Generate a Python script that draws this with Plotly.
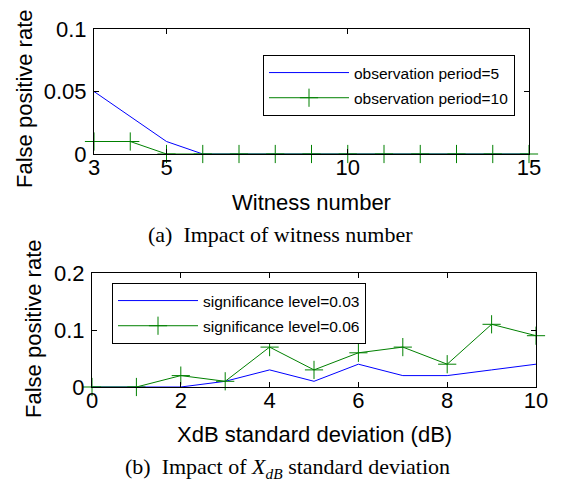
import plotly.graph_objects as go

# ---- data: (a) Impact of witness number ----
witness_number = [3, 4, 5, 6, 7, 8, 9, 10, 11, 12, 13, 14, 15]
fpr_obs5 = [0.05, 0.03, 0.01, 0, 0, 0, 0, 0, 0, 0, 0, 0, 0]
fpr_obs10 = [0.01, 0.01, 0, 0, 0, 0, 0, 0, 0, 0, 0, 0, 0]

# ---- data: (b) Impact of XdB standard deviation ----
xdb_std = [0, 1, 2, 3, 4, 5, 6, 7, 8, 9, 10]
fpr_sig003 = [0, 0, 0, 0.01, 0.03, 0.01, 0.04, 0.02, 0.02, 0.03, 0.04]
fpr_sig006 = [0, 0, 0.02, 0.01, 0.07, 0.03, 0.06, 0.07, 0.04, 0.11, 0.09]

x_ticks_a = [3, 5, 10, 15]
y_ticks_a = [0, 0.05, 0.1]
y_ticklabels_a = ["0", "0.05", "0.1"]
x_ticks_b = [0, 2, 4, 6, 8, 10]
y_ticks_b = [0, 0.1, 0.2]
y_ticklabels_b = ["0", "0.1", "0.2"]

BLUE = "rgb(0,0,255)"
GREEN = "rgb(0,128,0)"
SANS = "Liberation Sans, Arial, sans-serif"
SERIF = "Liberation Serif, Times New Roman, serif"
OFF = 8  # page body margin
W, H = 563 - OFF, 486 - OFF

fig = go.Figure()

fig.add_trace(go.Scatter(x=witness_number, y=fpr_obs5, mode="lines",
                         name="observation period=5", line=dict(color=BLUE, width=1),
                         xaxis="x", yaxis="y", legend="legend", legendgroup="a1",
                         cliponaxis=False))
fig.add_trace(go.Scatter(x=witness_number, y=fpr_obs10, mode="lines+markers",
                         name="observation period=10", line=dict(color=GREEN, width=1),
                         marker=dict(symbol="cross-thin", size=13, color=GREEN,
                                     line=dict(color=GREEN, width=1)),
                         xaxis="x", yaxis="y", legend="legend", legendgroup="a2",
                         cliponaxis=False))
fig.add_trace(go.Scatter(x=xdb_std, y=fpr_sig003, mode="lines",
                         name="significance level=0.03", line=dict(color=BLUE, width=1),
                         xaxis="x2", yaxis="y2", legend="legend2", legendgroup="b1",
                         cliponaxis=False))
fig.add_trace(go.Scatter(x=xdb_std, y=fpr_sig006, mode="lines+markers",
                         name="significance level=0.06", line=dict(color=GREEN, width=1),
                         marker=dict(symbol="cross-thin", size=13, color=GREEN,
                                     line=dict(color=GREEN, width=1)),
                         xaxis="x2", yaxis="y2", legend="legend2", legendgroup="b2",
                         cliponaxis=False))

def px_x(p):
    return (p - OFF) / W

def px_y(p):
    return 1 - (p - OFF) / H

axis_common = dict(showline=True, linecolor="black", linewidth=1, mirror="ticks",
                   ticks="inside", ticklen=5, tickcolor="black", tickwidth=1,
                   showgrid=False, zeroline=False, automargin=False,
                   tickfont=dict(family=SANS, size=22, color="black"))
xaxis_extra = dict(ticklabelstandoff=-6)
yaxis_extra = dict(ticklabelstandoff=2)

legend_common = dict(xanchor="left", yanchor="top",
                     bordercolor="black", borderwidth=1, bgcolor="white",
                     font=dict(family=SANS, size=15.5, color="black"),
                     traceorder="grouped", tracegroupgap=2, itemwidth=80)

fig.update_layout(
    width=W, height=H,
    margin=dict(l=0, r=0, t=0, b=0, pad=0, autoexpand=False),
    paper_bgcolor="white", plot_bgcolor="white",
    showlegend=True,
    xaxis=dict(domain=[px_x(94), px_x(529)], range=[3, 15], tickvals=x_ticks_a,
               anchor="y", **axis_common, **xaxis_extra),
    yaxis=dict(domain=[px_y(154), px_y(29)], range=[0, 0.1], tickvals=y_ticks_a,
               ticktext=y_ticklabels_a, anchor="x", **axis_common, **yaxis_extra),
    xaxis2=dict(domain=[px_x(92), px_x(536)], range=[0, 10], tickvals=x_ticks_b,
                anchor="y2", **axis_common, **xaxis_extra),
    yaxis2=dict(domain=[px_y(387), px_y(273)], range=[0, 0.2], tickvals=y_ticks_b,
                ticktext=y_ticklabels_b, anchor="x2", **axis_common, **yaxis_extra),
    legend=dict(x=px_x(263), y=px_y(55), **legend_common),
    legend2=dict(x=px_x(112), y=px_y(283), **legend_common),
)

annotations = [
    dict(text="False positive rate", x=px_x(25), y=px_y(99), textangle=-90),
    dict(text="Witness number", x=px_x(311), y=px_y(202)),
    dict(text="False positive rate", x=px_x(33), y=px_y(329), textangle=-90),
    dict(text="XdB standard deviation (dB)", x=px_x(314), y=px_y(434)),
]
for a in annotations:
    fig.add_annotation(xref="paper", yref="paper", showarrow=False,
                       xanchor="center", yanchor="middle",
                       font=dict(family=SANS, size=22, color="black"), **a)

fig.add_annotation(text="(a)  Impact of witness number", xref="paper", yref="paper",
                   x=px_x(280), y=px_y(234), showarrow=False, xanchor="center",
                   yanchor="middle", font=dict(family=SERIF, size=22, color="black"))
fig.add_annotation(text="(b)  Impact of <i>X</i><sub><i>dB</i></sub> standard deviation",
                   xref="paper", yref="paper",
                   x=px_x(287), y=px_y(468), showarrow=False, xanchor="center",
                   yanchor="middle", font=dict(family=SERIF, size=22, color="black"))

fig.write_html("out.html")
